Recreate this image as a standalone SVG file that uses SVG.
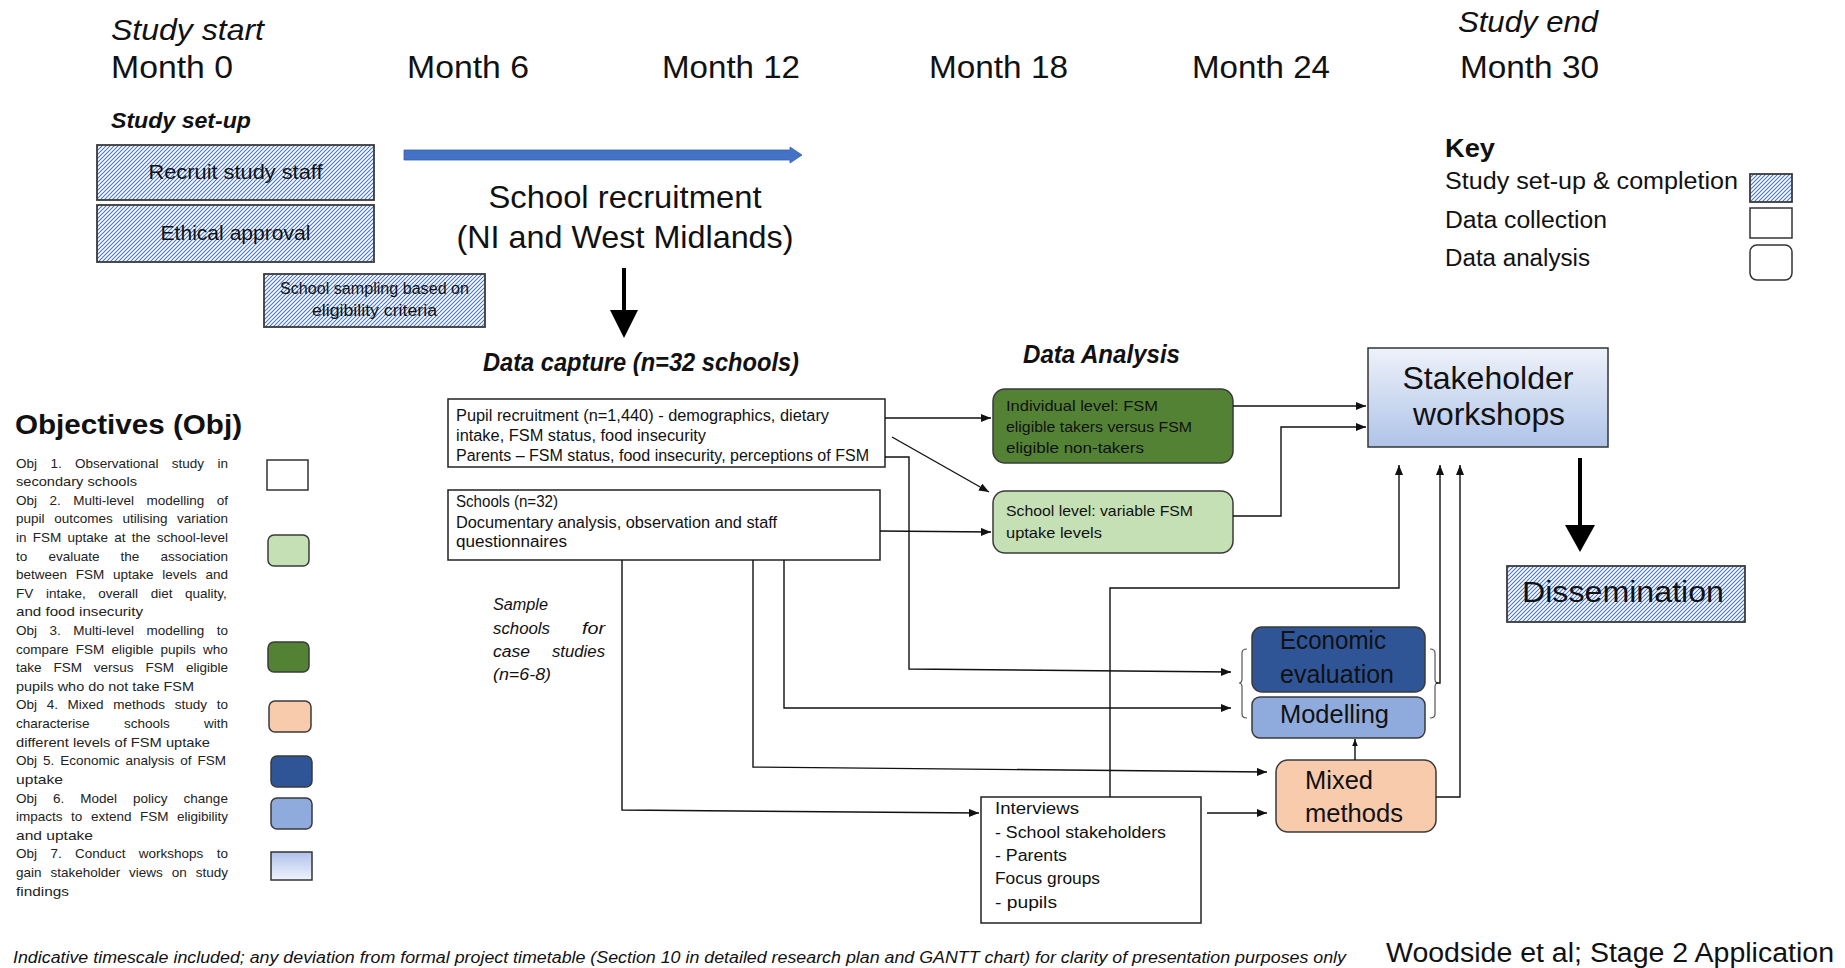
<svg xmlns="http://www.w3.org/2000/svg" width="1845" height="968" viewBox="0 0 1845 968">
<defs>
<style>
text{font-family:"Liberation Sans",Arial,sans-serif;fill:#111}
.it{font-style:italic}
.bd{font-weight:bold}
.hatch{fill:url(#hp);stroke:#3a3a3a;stroke-width:1.8}
.wbox{fill:#fff;stroke:#222;stroke-width:1.5}
.rbox{stroke:#3a3a3a;stroke-width:1.5}
.conn{fill:none;stroke:#111;stroke-width:1.4}
.obj{font-size:13.5px;fill:#222}
</style>
<pattern id="hp" patternUnits="userSpaceOnUse" width="4" height="4">
<rect width="4" height="4" fill="#fff"/>
<path d="M-1,1 L1,-1 M0,4 L4,0 M3,5 L5,3" stroke="#4472C4" stroke-width="1.05"/>
</pattern>
<linearGradient id="gStake" x1="0" y1="0" x2="0" y2="1">
<stop offset="0" stop-color="#EEF2FA"/>
<stop offset="1" stop-color="#AFC3E8"/>
</linearGradient>
<linearGradient id="gObj7" x1="0" y1="0" x2="0" y2="1">
<stop offset="0" stop-color="#AFC1EC"/>
<stop offset="1" stop-color="#EFF3FB"/>
</linearGradient>
<marker id="ah" viewBox="0 0 10 8" refX="10" refY="4" markerWidth="10" markerHeight="8" markerUnits="userSpaceOnUse" orient="auto">
<path d="M0,0 L10,4 L0,8 z" fill="#111"/>
</marker>
<marker id="ahs" viewBox="0 0 10 8" refX="10" refY="4" markerWidth="7" markerHeight="6" markerUnits="userSpaceOnUse" orient="auto">
<path d="M0,0 L10,4 L0,8 z" fill="#111"/>
</marker>
</defs>
<rect width="1845" height="968" fill="#fff"/>

<g id="timeline">
<text class="it" x="111" y="40" font-size="30" textLength="153" lengthAdjust="spacingAndGlyphs">Study start</text>
<text class="it" x="1458" y="32" font-size="30" textLength="140" lengthAdjust="spacingAndGlyphs">Study end</text>
<text x="111" y="78" font-size="32" textLength="122" lengthAdjust="spacingAndGlyphs">Month 0</text>
<text x="407" y="78" font-size="32" textLength="122" lengthAdjust="spacingAndGlyphs">Month 6</text>
<text x="662" y="78" font-size="32" textLength="138" lengthAdjust="spacingAndGlyphs">Month 12</text>
<text x="929" y="78" font-size="32" textLength="139" lengthAdjust="spacingAndGlyphs">Month 18</text>
<text x="1192" y="78" font-size="32" textLength="138" lengthAdjust="spacingAndGlyphs">Month 24</text>
<text x="1460" y="78" font-size="32" textLength="139" lengthAdjust="spacingAndGlyphs">Month 30</text>
</g>

<g id="setup">
<text class="it bd" x="111" y="128" font-size="22" textLength="140" lengthAdjust="spacingAndGlyphs">Study set-up</text>
</g>
<g id="recruit-staff">
<rect class="hatch" x="97" y="145" width="277" height="55"/>
<text x="235.5" y="179" font-size="21" text-anchor="middle" textLength="174" lengthAdjust="spacingAndGlyphs">Recruit study staff</text>
</g>
<g id="ethical">
<rect class="hatch" x="97" y="205" width="277" height="57"/>
<text x="235.5" y="240" font-size="21" text-anchor="middle" textLength="150" lengthAdjust="spacingAndGlyphs">Ethical approval</text>
</g>
<g id="sampling">
<rect class="hatch" x="264" y="274" width="221" height="53"/>
<text x="374.5" y="294" font-size="16" text-anchor="middle" textLength="189" lengthAdjust="spacingAndGlyphs">School sampling based on</text>
<text x="374.5" y="316" font-size="16" text-anchor="middle" textLength="125" lengthAdjust="spacingAndGlyphs">eligibility criteria</text>
</g>

<g id="school-recruitment">
<polygon points="404,150 790,150 790,147 802,155 790,163 790,160 404,160" fill="#4472C4" stroke="#3560AE" stroke-width="0.8"/>
<text x="625" y="208" font-size="32" text-anchor="middle" textLength="273" lengthAdjust="spacingAndGlyphs">School recruitment</text>
<text x="625" y="248" font-size="32" text-anchor="middle" textLength="337" lengthAdjust="spacingAndGlyphs">(NI and West Midlands)</text>
<rect x="622" y="268" width="4" height="44" fill="#000"/>
<polygon points="610,310 638,310 624,338" fill="#000"/>
</g>

<g id="data-capture">
<text class="it bd" x="483" y="371" font-size="26" textLength="316" lengthAdjust="spacingAndGlyphs">Data capture (n=32 schools)</text>
</g>
<g id="pupil-box">
<rect class="wbox" x="448" y="399" width="437" height="68"/>
<text x="456" y="421" font-size="16" textLength="373" lengthAdjust="spacingAndGlyphs">Pupil recruitment (n=1,440) - demographics, dietary</text>
<text x="456" y="441" font-size="16" textLength="250" lengthAdjust="spacingAndGlyphs">intake, FSM status, food insecurity</text>
<text x="456" y="461" font-size="16" textLength="413" lengthAdjust="spacingAndGlyphs">Parents – FSM status, food insecurity, perceptions of FSM</text>
</g>
<g id="schools-box">
<rect class="wbox" x="448" y="490" width="432" height="70"/>
<text x="456" y="507" font-size="16" textLength="102" lengthAdjust="spacingAndGlyphs">Schools (n=32)</text>
<text x="456" y="528" font-size="16" textLength="321" lengthAdjust="spacingAndGlyphs">Documentary analysis, observation and staff</text>
<text x="456" y="547" font-size="16" textLength="111" lengthAdjust="spacingAndGlyphs">questionnaires</text>
</g>
<g id="sample-note">
<text class="it" x="493" y="610" font-size="16" textLength="55" lengthAdjust="spacingAndGlyphs">Sample</text>
<text class="it" x="493" y="634" font-size="16" textLength="57" lengthAdjust="spacingAndGlyphs">schools</text>
<text class="it" x="605" y="634" font-size="16" text-anchor="end" textLength="23" lengthAdjust="spacingAndGlyphs">for</text>
<text class="it" x="493" y="657" font-size="16" textLength="37" lengthAdjust="spacingAndGlyphs">case</text>
<text class="it" x="605" y="657" font-size="16" text-anchor="end" textLength="53" lengthAdjust="spacingAndGlyphs">studies</text>
<text class="it" x="493" y="680" font-size="16" textLength="58" lengthAdjust="spacingAndGlyphs">(n=6-8)</text>
</g>

<g id="data-analysis">
<text class="it bd" x="1023" y="363" font-size="25" textLength="157" lengthAdjust="spacingAndGlyphs">Data Analysis</text>
</g>
<g id="individual">
<rect class="rbox" x="993" y="389" width="240" height="74" rx="12" fill="#548235"/>
<text x="1006" y="411" font-size="15" textLength="152" lengthAdjust="spacingAndGlyphs">Individual level: FSM</text>
<text x="1006" y="432" font-size="15" textLength="186" lengthAdjust="spacingAndGlyphs">eligible takers versus FSM</text>
<text x="1006" y="453" font-size="15" textLength="138" lengthAdjust="spacingAndGlyphs">eligible non-takers</text>
</g>
<g id="school-level">
<rect class="rbox" x="993" y="491" width="240" height="62" rx="12" fill="#C5E0B4"/>
<text x="1006" y="516" font-size="15" textLength="187" lengthAdjust="spacingAndGlyphs">School level: variable FSM</text>
<text x="1006" y="538" font-size="15" textLength="96" lengthAdjust="spacingAndGlyphs">uptake levels</text>
</g>
<g id="stakeholder">
<rect x="1368" y="348" width="240" height="99" fill="url(#gStake)" stroke="#333" stroke-width="1.5"/>
<text x="1488" y="389" font-size="32" text-anchor="middle" textLength="171" lengthAdjust="spacingAndGlyphs">Stakeholder</text>
<text x="1489" y="425" font-size="32" text-anchor="middle" textLength="152" lengthAdjust="spacingAndGlyphs">workshops</text>
</g>
<g id="dissemination">
<rect x="1578" y="458" width="4" height="69" fill="#000"/>
<polygon points="1565,525 1595,525 1580,552" fill="#000"/>
<rect class="hatch" x="1507" y="566" width="238" height="56"/>
<text x="1623" y="602" font-size="30" text-anchor="middle" textLength="202" lengthAdjust="spacingAndGlyphs">Dissemination</text>
</g>
<g id="economic">
<rect class="rbox" x="1252" y="627" width="173" height="65" rx="10" fill="#2F5597"/>
<text x="1280" y="649" font-size="25" textLength="106" lengthAdjust="spacingAndGlyphs">Economic</text>
<text x="1280" y="683" font-size="25" textLength="114" lengthAdjust="spacingAndGlyphs">evaluation</text>
</g>
<g id="modelling">
<rect class="rbox" x="1252" y="697" width="173" height="41" rx="8" fill="#8FAADC"/>
<text x="1280" y="723" font-size="25" textLength="109" lengthAdjust="spacingAndGlyphs">Modelling</text>
</g>
<g id="brackets">
<path d="M1247,649 Q1242,649 1242,653 L1242,679 Q1242,683 1239,683 Q1242,683 1242,687 L1242,714 Q1242,718 1247,718" fill="none" stroke="#555" stroke-width="1.2"/>
<path d="M1430,649 Q1435,649 1435,653 L1435,679 Q1435,683 1438,683 Q1435,683 1435,687 L1435,714 Q1435,718 1430,718" fill="none" stroke="#555" stroke-width="1.2"/>
</g>
<g id="mixed">
<rect class="rbox" x="1276" y="760" width="160" height="72" rx="12" fill="#F8CBAD"/>
<text x="1305" y="789" font-size="25" textLength="68" lengthAdjust="spacingAndGlyphs">Mixed</text>
<text x="1305" y="822" font-size="25" textLength="98" lengthAdjust="spacingAndGlyphs">methods</text>
</g>
<g id="interviews">
<rect class="wbox" x="981" y="797" width="220" height="126"/>
<text x="995" y="814" font-size="16" textLength="84" lengthAdjust="spacingAndGlyphs">Interviews</text>
<text x="995" y="838" font-size="16" textLength="171" lengthAdjust="spacingAndGlyphs">- School stakeholders</text>
<text x="995" y="861" font-size="16" textLength="72" lengthAdjust="spacingAndGlyphs">- Parents</text>
<text x="995" y="884" font-size="16" textLength="105" lengthAdjust="spacingAndGlyphs">Focus groups</text>
<text x="995" y="908" font-size="16" textLength="62" lengthAdjust="spacingAndGlyphs">- pupils</text>
</g>

<g id="connectors">
<path class="conn" d="M885,418 L991,418" marker-end="url(#ah)"/>
<path class="conn" d="M892,437 L989,492" marker-end="url(#ah)"/>
<path class="conn" d="M880,531 L991,532" marker-end="url(#ah)"/>
<path class="conn" d="M885,457 H909 V669 L1231,672" marker-end="url(#ah)"/>
<path class="conn" d="M784,560 V708 H1231" marker-end="url(#ah)"/>
<path class="conn" d="M753,560 V767 L1267,772" marker-end="url(#ah)"/>
<path class="conn" d="M622,560 V810 L979,813" marker-end="url(#ah)"/>
<path class="conn" d="M1207,813 H1267" marker-end="url(#ah)"/>
<path class="conn" d="M1355,760 V739" marker-end="url(#ahs)"/>
<path class="conn" d="M1436,797 H1460 V465" marker-end="url(#ah)"/>
<path class="conn" d="M1436,683 H1440 V465" marker-end="url(#ah)"/>
<path class="conn" d="M1110,797 V588 H1399 V465" marker-end="url(#ah)"/>
<path class="conn" d="M1233,406 H1366" marker-end="url(#ah)"/>
<path class="conn" d="M1233,516 H1281 V427 H1366" marker-end="url(#ah)"/>
</g>

<g id="key">
<text class="bd" x="1445" y="157" font-size="26" textLength="50" lengthAdjust="spacingAndGlyphs">Key</text>
<text x="1445" y="189" font-size="23" textLength="293" lengthAdjust="spacingAndGlyphs">Study set-up &amp; completion</text>
<text x="1445" y="228" font-size="23" textLength="162" lengthAdjust="spacingAndGlyphs">Data collection</text>
<text x="1445" y="266" font-size="23" textLength="145" lengthAdjust="spacingAndGlyphs">Data analysis</text>
<rect class="hatch" x="1750" y="174" width="42" height="28"/>
<rect x="1750" y="208" width="42" height="30" fill="#fff" stroke="#333" stroke-width="1.5"/>
<rect x="1750" y="245" width="42" height="35" rx="7" fill="#fff" stroke="#333" stroke-width="1.5"/>
</g>

<g id="objectives">
<text class="bd" x="15" y="434" font-size="28" textLength="227" lengthAdjust="spacingAndGlyphs">Objectives (Obj)</text>
<text class="obj" y="467.5"><tspan x="16">Obj</tspan><tspan x="50.4">1.</tspan><tspan x="75.1">Observational</tspan><tspan x="171.8">study</tspan><tspan x="217.5">in</tspan></text>
<text class="obj" x="16" y="486.1" textLength="121" lengthAdjust="spacingAndGlyphs">secondary schools</text>
<text class="obj" y="504.7"><tspan x="16">Obj</tspan><tspan x="49.5">2.</tspan><tspan x="73.2">Multi-level</tspan><tspan x="146.5">modelling</tspan><tspan x="216.7">of</tspan></text>
<text class="obj" y="523.3"><tspan x="16">pupil</tspan><tspan x="54.2">outcomes</tspan><tspan x="122.4">utilising</tspan><tspan x="177">variation</tspan></text>
<text class="obj" y="541.9"><tspan x="16">in</tspan><tspan x="32.7">FSM</tspan><tspan x="67.4">uptake</tspan><tspan x="114.2">at</tspan><tspan x="131.7">the</tspan><tspan x="156.7">school-level</tspan></text>
<text class="obj" y="560.6"><tspan x="16">to</tspan><tspan x="48.4">evaluate</tspan><tspan x="120.5">the</tspan><tspan x="160.4">association</tspan></text>
<text class="obj" y="579.2"><tspan x="16">between</tspan><tspan x="75.8">FSM</tspan><tspan x="113">uptake</tspan><tspan x="162.3">levels</tspan><tspan x="205.5">and</tspan></text>
<text class="obj" y="597.8"><tspan x="16">FV</tspan><tspan x="45.9">intake,</tspan><tspan x="98.3">overall</tspan><tspan x="150.7">diet</tspan><tspan x="185.1">quality,</tspan></text>
<text class="obj" x="16" y="616.4" textLength="127" lengthAdjust="spacingAndGlyphs">and food insecurity</text>
<text class="obj" y="635.0"><tspan x="16">Obj</tspan><tspan x="49.5">3.</tspan><tspan x="73.2">Multi-level</tspan><tspan x="146.5">modelling</tspan><tspan x="216.7">to</tspan></text>
<text class="obj" y="653.6"><tspan x="16">compare</tspan><tspan x="75.7">FSM</tspan><tspan x="111.4">eligible</tspan><tspan x="160.6">pupils</tspan><tspan x="203.1">who</tspan></text>
<text class="obj" y="672.2"><tspan x="16">take</tspan><tspan x="53.4">FSM</tspan><tspan x="93.8">versus</tspan><tspan x="145.5">FSM</tspan><tspan x="185.9">eligible</tspan></text>
<text class="obj" x="16" y="690.8" textLength="178" lengthAdjust="spacingAndGlyphs">pupils who do not take FSM</text>
<text class="obj" y="709.4"><tspan x="16">Obj</tspan><tspan x="46.7">4.</tspan><tspan x="67.6">Mixed</tspan><tspan x="113.3">methods</tspan><tspan x="174.8">study</tspan><tspan x="216.7">to</tspan></text>
<text class="obj" y="728.0"><tspan x="16">characterise</tspan><tspan x="123.9">schools</tspan><tspan x="204">with</tspan></text>
<text class="obj" x="16" y="746.7" textLength="194" lengthAdjust="spacingAndGlyphs">different levels of FSM uptake</text>
<text class="obj" y="765.3"><tspan x="16">Obj</tspan><tspan x="43">5.</tspan><tspan x="60.3">Economic</tspan><tspan x="125.5">analysis</tspan><tspan x="180.3">of</tspan><tspan x="197.6">FSM</tspan></text>
<text class="obj" x="16" y="783.9" textLength="47" lengthAdjust="spacingAndGlyphs">uptake</text>
<text class="obj" y="802.5"><tspan x="16">Obj</tspan><tspan x="53">6.</tspan><tspan x="80.3">Model</tspan><tspan x="133.1">policy</tspan><tspan x="183.6">change</tspan></text>
<text class="obj" y="821.1"><tspan x="16">impacts</tspan><tspan x="71.1">to</tspan><tspan x="90.9">extend</tspan><tspan x="140">FSM</tspan><tspan x="177">eligibility</tspan></text>
<text class="obj" x="16" y="839.7" textLength="77" lengthAdjust="spacingAndGlyphs">and uptake</text>
<text class="obj" y="858.3"><tspan x="16">Obj</tspan><tspan x="50.4">7.</tspan><tspan x="75.1">Conduct</tspan><tspan x="138.8">workshops</tspan><tspan x="216.7">to</tspan></text>
<text class="obj" y="876.9"><tspan x="16">gain</tspan><tspan x="50.4">stakeholder</tspan><tspan x="129.1">views</tspan><tspan x="171.8">on</tspan><tspan x="195.7">study</tspan></text>
<text class="obj" x="16" y="895.5" textLength="53" lengthAdjust="spacingAndGlyphs">findings</text>
<rect x="267" y="460" width="41" height="30" fill="#fff" stroke="#333" stroke-width="1.5"/>
<rect x="268" y="535" width="41" height="31" rx="6" fill="#C5E0B4" stroke="#3a3a3a" stroke-width="1.5"/>
<rect x="268" y="642" width="41" height="30" rx="6" fill="#548235" stroke="#3a3a3a" stroke-width="1.5"/>
<rect x="269" y="701" width="42" height="31" rx="6" fill="#F8CBAD" stroke="#3a3a3a" stroke-width="1.5"/>
<rect x="271" y="756" width="41" height="31" rx="6" fill="#2F5597" stroke="#3a3a3a" stroke-width="1.5"/>
<rect x="271" y="798" width="41" height="31" rx="6" fill="#8FAADC" stroke="#3a3a3a" stroke-width="1.5"/>
<rect x="271" y="852" width="41" height="28" fill="url(#gObj7)" stroke="#333" stroke-width="1.5"/>
</g>

<g id="footer">
<text class="it" x="13" y="963" font-size="16" textLength="1333" lengthAdjust="spacingAndGlyphs">Indicative timescale included; any deviation from formal project timetable (Section 10 in detailed research plan and GANTT chart) for clarity of presentation purposes only</text>
<text x="1386" y="962" font-size="27" textLength="448" lengthAdjust="spacingAndGlyphs">Woodside et al; Stage 2 Application</text>
</g>
</svg>
